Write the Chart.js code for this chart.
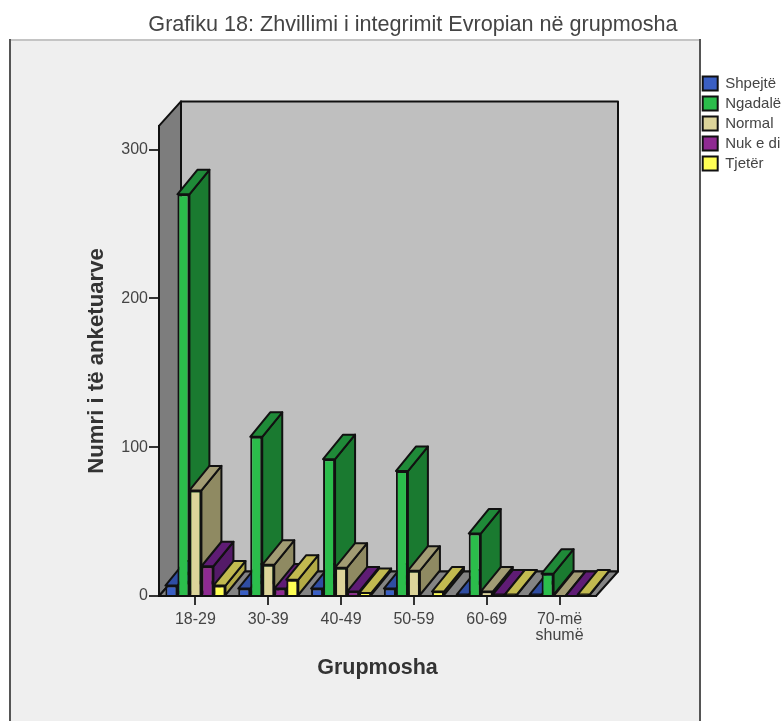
<!DOCTYPE html>
<html><head><meta charset="utf-8">
<style>html,body{margin:0;padding:0;background:#fff;overflow:hidden}canvas{display:block}</style>
<script src="https://cdn.jsdelivr.net/npm/chart.js@4/dist/chart.umd.min.js"></script>
</head><body><canvas id="c" width="782" height="721"></canvas>
<script>
const categories = ['18-29','30-39','40-49','50-59','60-69',['70-më','shumë']];
const seriesNames = ['Shpejtë','Ngadalë','Normal','Nuk e di','Tjetër'];
const shpejte = [7,5,5,5,1,1];
const ngadale = [270,107,92,84,42,15];
const normal  = [71,21,19,17,3,0];
const nukEDi  = [20,5,3,null,1,0];
const tjeter  = [7,11,2,3,1,1];
const seriesValues = [shpejte,ngadale,normal,nukEDi,tjeter];
const yTickValues = [0,100,200,300];
const titleText = 'Grafiku 18: Zhvillimi i integrimit Evropian në grupmosha';
const xTitle = 'Grupmosha';
const yTitle = 'Numri i të anketuarve';

const frontColors = ['#3a5fc4','#2bbd4b','#dcd49a','#8f2a92','#ffff55'];
const topColors   = ['#2f4da3','#1f8a38','#a29c74','#5f1c75','#c2ba50'];
const sideColors  = ['#2a4592','#1a7a30','#8f8a62','#541a68','#b3ab46'];

const INK = '#111';
const TEXT = '#444';
const BAR_DX = 20, BAR_DY = 24.5, WALL_DX = 22, WALL_DY = 24.5;

function poly(ctx, pts, fill, stroke, lw){
  ctx.beginPath();
  pts.forEach((p,i)=> i?ctx.lineTo(p[0],p[1]):ctx.moveTo(p[0],p[1]));
  ctx.closePath();
  if(fill){ctx.fillStyle=fill;ctx.fill();}
  if(stroke){ctx.strokeStyle=stroke;ctx.lineWidth=lw;ctx.lineJoin='round';ctx.stroke();}
}

const scene = {
  id:'scene',
  afterLayout(chart){
    const lg = chart.legend;
    lg.left = 697.7; lg.right = 782; lg.top = 71; lg.bottom = 200;
    const tb = chart.titleBlock;
    tb.left = 44; tb.right = 782;
  },
  beforeDraw(chart){
    const {ctx,scales:{x,y}} = chart;
    const l=x.left, r=x.right, t=y.top, b=y.bottom;
    ctx.save();
    ctx.fillStyle='#efefef'; ctx.fillRect(10,40,690,681);
    ctx.fillStyle='#c4c4c4'; ctx.fillRect(9,39,691,2);
    ctx.fillStyle='#555'; ctx.fillRect(9,39,2,682); ctx.fillRect(699,39,2,682);
    poly(ctx,[[l+WALL_DX,t-WALL_DY],[r+WALL_DX,t-WALL_DY],[r+WALL_DX,b-WALL_DY],[l+WALL_DX,b-WALL_DY]],'#bfbfbf',INK,2);
    poly(ctx,[[l,t],[l+WALL_DX,t-WALL_DY],[l+WALL_DX,b-WALL_DY],[l,b]],'#7d7d7d',INK,2);
    poly(ctx,[[l,b],[l+WALL_DX,b-WALL_DY],[r+WALL_DX,b-WALL_DY],[r,b]],'#848484',INK,2);
    ctx.restore();
  },
  beforeDatasetsDraw(chart){
    const ctx = chart.ctx;
    categories.forEach((_,i)=>{
      seriesValues.forEach((vals,k)=>{
        if(vals[i]===null) return;
        const el = chart.getDatasetMeta(k).data[i];
        const {x,y,base,width} = el.getProps(['x','y','base','width'],true);
        const x0=x-width/2, x1=x+width/2;
        ctx.save();
        poly(ctx,[[x1,y],[x1+BAR_DX,y-BAR_DY],[x1+BAR_DX,base-BAR_DY],[x1,base]],sideColors[k],INK,2);
        poly(ctx,[[x0,y],[x0+BAR_DX,y-BAR_DY],[x1+BAR_DX,y-BAR_DY],[x1,y]],topColors[k],INK,2);
        ctx.restore();
        el.draw(ctx);
      });
    });
    return false;
  }
};

new Chart(document.getElementById('c'),{
  type:'bar',
  data:{
    labels:categories,
    datasets:seriesNames.map((n,k)=>({
      label:n,
      data:seriesValues[k],
      backgroundColor:frontColors[k],
      borderColor:INK,
      borderWidth:2,
      categoryPercentage:0.825,
      barPercentage:1
    }))
  },
  plugins:[scene],
  options:{
    responsive:false,
    animation:false,
    layout:{padding:{left:0,right:186,top:0,bottom:0}},
    plugins:{
      tooltip:{enabled:false},
      title:{display:true,text:titleText,color:TEXT,
        font:{family:'"Liberation Sans"',size:21.6,weight:'normal'},
        padding:{top:12,bottom:88}},
      legend:{position:'chartArea',align:'start',
        labels:{boxWidth:15,boxHeight:14,padding:5,color:TEXT,
          font:{family:'"Liberation Sans"',size:15}}}
    },
    scales:{
      x:{
        afterFit(s){s.height=125;},
        grid:{offset:false,drawOnChartArea:false,drawTicks:true,tickLength:9,color:'#333',lineWidth:2},
        border:{display:true,color:INK,width:2},
        ticks:{color:TEXT,font:{family:'"Liberation Sans"',size:16,lineHeight:1.0},padding:7,maxRotation:0,autoSkip:false},
        title:{display:true,text:xTitle,color:'#333',font:{family:'"Liberation Sans"',size:21.5,weight:'bold'},padding:{top:0,bottom:40}}
      },
      y:{
        min:0,max:316,
        afterBuildTicks(s){s.ticks=yTickValues.map(v=>({value:v}));},
        afterFit(s){s.width=159;},
        grid:{drawOnChartArea:false,drawTicks:true,tickLength:10,color:'#333',lineWidth:2},
        border:{display:true,color:INK,width:2},
        ticks:{color:TEXT,font:{family:'"Liberation Sans"',size:16},padding:1},
        title:{display:true,text:yTitle,color:'#333',font:{family:'"Liberation Sans"',size:22.2,weight:'bold'},padding:{top:84,bottom:0}}
      }
    }
  }
});
</script></body></html>
